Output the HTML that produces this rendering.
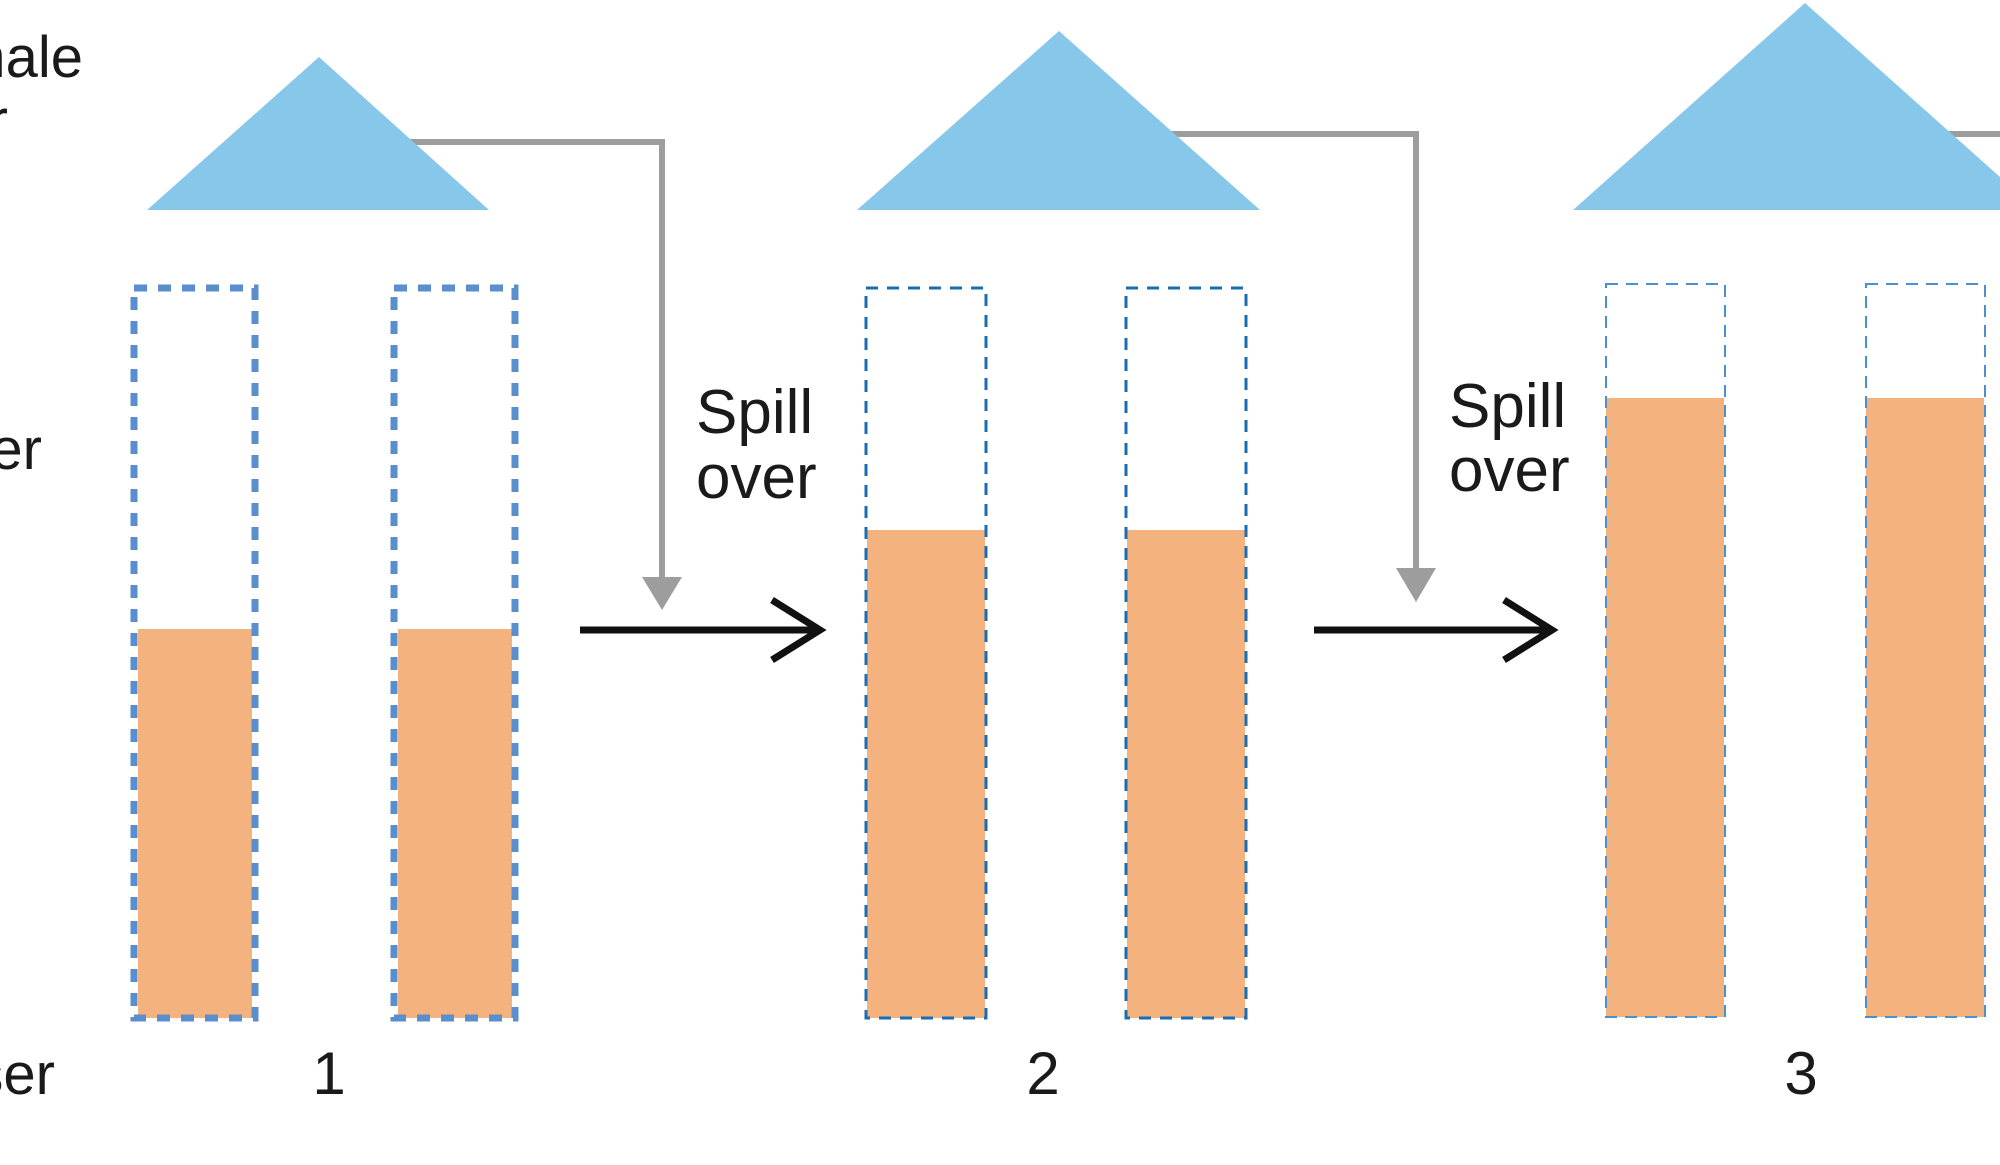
<!DOCTYPE html>
<html><head><meta charset="utf-8"><style>
html,body{margin:0;padding:0;background:#fff;width:2000px;height:1165px;overflow:hidden}
svg{display:block}
text{font-family:"Liberation Sans",sans-serif;fill:#1a1a1a}
</style></head><body>
<svg width="2000" height="1165" viewBox="0 0 2000 1165" xmlns="http://www.w3.org/2000/svg">
<text x="83" y="77" font-size="58" text-anchor="end">Female</text>
<text x="8" y="140" font-size="58" text-anchor="end">Flower</text>
<text x="42" y="469" font-size="58" text-anchor="end">Water</text>
<text x="55" y="1094" font-size="58" text-anchor="end">Dispenser</text>

<polyline points="380,142 662,142 662,582" fill="none" stroke="#9d9d9d" stroke-width="6"/>
<polygon points="642,577 682,577 662,610" fill="#9d9d9d"/>
<polyline points="1150,134 1416,134 1416,572" fill="none" stroke="#9d9d9d" stroke-width="6"/>
<polygon points="1396,568 1436,568 1416,602" fill="#9d9d9d"/>
<polyline points="1940,134 2000,134" fill="none" stroke="#9d9d9d" stroke-width="6"/>

<polygon points="319,57 147,210 489,210" fill="#87c7e9"/>
<polygon points="1059,31 857,210 1260,210" fill="#87c7e9"/>
<polygon points="1805,3 1573,210 2037,210" fill="#87c7e9"/>

<line x1="580" y1="630" x2="820" y2="630" stroke="#111" stroke-width="7"/>
<polyline points="772,600 820,630 772,660" fill="none" stroke="#111" stroke-width="7"/>
<line x1="1314" y1="630" x2="1550" y2="630" stroke="#111" stroke-width="7"/>
<polyline points="1504,600 1552,630 1504,660" fill="none" stroke="#111" stroke-width="7"/>

<text x="696" y="433" font-size="62">Spill</text>
<text x="696" y="498" font-size="62">over</text>
<text x="1449" y="427" font-size="62">Spill</text>
<text x="1449" y="491" font-size="62">over</text>

<rect x="138" y="629" width="114" height="389" fill="#f4b27f"/>
<rect x="398" y="629" width="114" height="389" fill="#f4b27f"/>
<rect x="134" y="288" width="121" height="730" fill="none" stroke="#5b8ecc" stroke-width="7" stroke-dasharray="13,11"/>
<rect x="394" y="288" width="121" height="730" fill="none" stroke="#5b8ecc" stroke-width="7" stroke-dasharray="13,11"/>

<rect x="867" y="530" width="118" height="488" fill="#f4b27f"/>
<rect x="1127" y="530" width="118" height="488" fill="#f4b27f"/>
<rect x="866" y="288" width="120" height="730" fill="none" stroke="#1a6db3" stroke-width="3" stroke-dasharray="12,9"/>
<rect x="1126" y="288" width="120" height="730" fill="none" stroke="#1a6db3" stroke-width="3" stroke-dasharray="12,9"/>

<rect x="1606" y="398" width="118" height="619" fill="#f4b27f"/>
<rect x="1866" y="398" width="118" height="619" fill="#f4b27f"/>
<rect x="1606" y="284" width="119" height="733" fill="none" stroke="#4a90d0" stroke-width="2" stroke-dasharray="12,8"/>
<rect x="1866" y="284" width="119" height="733" fill="none" stroke="#4a90d0" stroke-width="2" stroke-dasharray="12,8"/>

<text x="329" y="1094" font-size="60" text-anchor="middle">1</text>
<text x="1043" y="1094" font-size="60" text-anchor="middle">2</text>
<text x="1801" y="1094" font-size="60" text-anchor="middle">3</text>
</svg>
</body></html>
